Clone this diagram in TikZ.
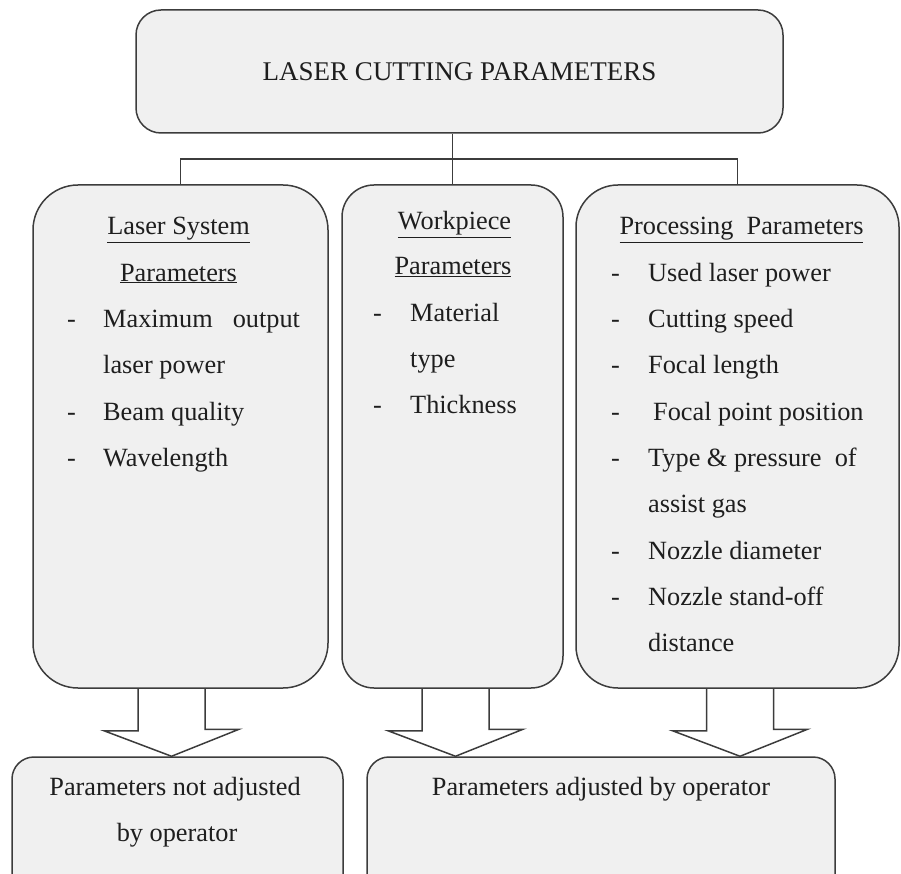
\documentclass[tikz,border=0pt]{standalone}
\usepackage{fontspec}
\setmainfont{Liberation Serif}
\usetikzlibrary{backgrounds}
\definecolor{edgegray}{HTML}{3C3C3C}
\definecolor{boxfill}{HTML}{F0F0F0}
\definecolor{inkgray}{HTML}{1E1E1E}

\begin{document}
\begin{tikzpicture}[x=1pt, y=-1pt,
    box/.style={draw=edgegray, line width=1.5pt, fill=boxfill, inner sep=0pt},
    link/.style={draw=edgegray, line width=1.5pt},
    blockarr/.style={draw=edgegray, line width=1.5pt, fill=white, line join=miter},
    txt/.style={font=\fontsize{26.3}{30}\selectfont, text=inkgray, inner sep=0pt, anchor=base west},
    hd/.style={txt, anchor=base}]
  \useasboundingbox (0,0) rectangle (901,874);
  % boxes
  \node[box, rounded corners=25pt, minimum width=647pt, minimum height=123pt,
        font=\fontsize{27}{30}\selectfont, text=inkgray] (lcp) at (459.5,71.5) {LASER CUTTING PARAMETERS};
  \node[box, rounded corners=45pt, minimum width=295pt, minimum height=503pt] (lsp) at (180.5,436.5) {};
  \node[box, rounded corners=32pt, minimum width=221pt, minimum height=503pt] (wpp) at (452.5,436.5) {};
  \node[box, rounded corners=42pt, minimum width=323pt, minimum height=503pt] (ppp) at (737.5,436.5) {};
  \node[box, rounded corners=22pt, minimum width=331pt, minimum height=140pt] (pna) at (177.5,827) {};
  \node[box, rounded corners=22pt, minimum width=468pt, minimum height=140pt] (pao) at (601,827) {};
  % tree lines
  \coordinate (bus) at (0,159);
  \draw[link] (lsp.north) -- (lsp.north |- bus) -- (ppp.north |- bus) -- (ppp.north);
  \draw[link] (lcp.south -| wpp.north) -- (wpp.north);
  % block arrows
  \begin{scope}[on background layer]
    \foreach \n/\cx in {lsp/171.5, wpp/455.5, ppp/740}{
      \coordinate (top) at (\n.south -| \cx,0);
      \draw[blockarr] ([xshift=-33.5pt]top) -- ++(0,42) -- ++(-34,0) -- (top |- pna.north)
        -- ++(67.5,-27) -- ++(-34,0) -- ++(0,-42);
    }
  \end{scope}
  % laser system parameters
  \node[hd] (lsp-h1) at (178.5,235) {\underline{Laser System}};
  \node[hd] (lsp-h2) at (178.5,281) {\underline{Parameters}};
  \foreach \d/\t [count=\k] in {-/Maximum\hspace{20pt}output, /laser power, -/Beam quality, -/Wavelength}{
    \node[txt] (lsp-d\k) at (67,281.3+46.3*\k) {\d};
    \node[txt] (lsp-\k) at (103,281.3+46.3*\k) {\t};
  }
  % workpiece parameters
  \node[hd] (wpp-h1) at (454.5,230) {\underline{Workpiece}};
  \node[hd] (wpp-h2) at (453,275) {\underline{Parameters}};
  \foreach \d/\t [count=\k] in {-/Material, /type, -/Thickness}{
    \node[txt] (wpp-d\k) at (373,275+46*\k) {\d};
    \node[txt] (wpp-\k) at (410,275+46*\k) {\t};
  }
  % processing parameters
  \node[hd] (ppp-h1) at (741.5,235) {\underline{Processing\ \ Parameters}};
  \foreach \d/\t [count=\k] in {-/Used laser power, -/Cutting speed, -/Focal length,
      -/\hspace{5pt}Focal point position, -/Type \& pressure\ \ of, /assist gas,
      -/Nozzle diameter, -/Nozzle stand-off, /distance}{
    \node[txt] (ppp-d\k) at (611,235+46.3*\k) {\d};
    \node[txt] (ppp-\k) at (648,235+46.3*\k) {\t};
  }
  % bottom texts
  \node[hd] (pna-1) at (175,795) {Parameters not adjusted};
  \node[hd] (pna-2) at (177,841) {by operator};
  \node[hd] (pao-1) at (601,795) {Parameters adjusted by operator};
\end{tikzpicture}
\end{document}
